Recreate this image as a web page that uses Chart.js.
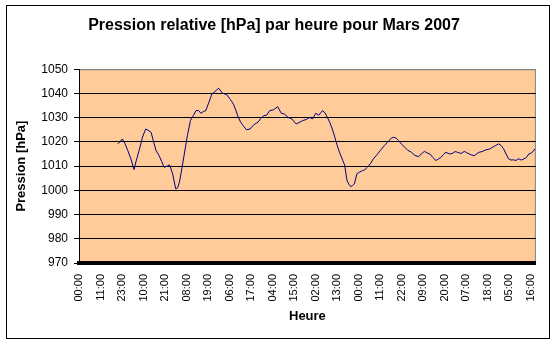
<!DOCTYPE html>
<html>
<head>
<meta charset="utf-8">
<title>Pression relative Mars 2007</title>
<script src="https://cdn.jsdelivr.net/npm/chart.js@4.4.1/dist/chart.umd.min.js"></script>
<style>
  html, body { margin: 0; padding: 0; background: #fff; }
  #chart { display: block; width: 555px; height: 344px; }
</style>
</head>
<body>
<canvas id="chart" width="555" height="344"></canvas>
<script>
// étiquettes de l'axe horizontal, une toutes les 35 lignes horaires
const tickLabels = ['00:00','11:00','23:00','10:00','21:00','08:00','19:00','06:00','17:00','04:00','15:00',
                    '02:00','13:00','00:00','11:00','22:00','09:00','20:00','07:00','18:00','05:00','16:00'];
const tickStep = 35;

// rang de la mesure horaire dans le mois
const hours = [63, 66, 70, 74, 79, 84, 89, 93, 98, 103, 108, 112, 117, 121, 125, 130, 134, 138, 143, 147,
               152, 157, 160, 163, 167, 171, 176, 181, 186, 190, 194, 198, 202, 206, 211, 216, 221, 227, 232, 236,
               240, 246, 251, 255, 259, 263, 267, 272, 278, 282, 286, 291, 295, 300, 305, 310, 316, 323, 329, 334,
               340, 346, 353, 358, 364, 370, 375, 380, 385, 390, 396, 400, 404, 408, 412, 416, 420, 424, 428, 432,
               436, 439, 442, 445, 448, 452, 456, 461, 465, 469, 474, 479, 485, 490, 497, 504, 508, 512, 516, 520,
               525, 530, 535, 541, 546, 552, 557, 562, 566, 571, 576, 581, 585, 589, 593, 597, 603, 608, 612, 616,
               622, 627, 631, 635, 639, 643, 647, 651, 656, 662, 668, 673, 678, 683, 687, 691, 695, 699, 703, 707,
               711, 715, 720, 724, 728, 732, 737, 742];

// pression relative en hPa
const pressure = [1019.2, 1020.0, 1021.2, 1019.5, 1016.4, 1013.0, 1008.6, 1012.5, 1017.0, 1022.0, 1025.3, 1024.8, 1023.9, 1020.0, 1016.4, 1014.3, 1012.0, 1009.5, 1010.0, 1010.5,
                  1006.8, 1000.6, 1001.0, 1003.3, 1009.0, 1015.0, 1022.6, 1028.8, 1031.0, 1032.9, 1033.0, 1031.8, 1032.5, 1032.9, 1036.3, 1039.8, 1040.8, 1042.2, 1040.4, 1039.8,
                  1039.5, 1037.5, 1035.6, 1033.0, 1030.1, 1028.0, 1026.7, 1025.0, 1025.3, 1026.5, 1027.4, 1028.1, 1029.5, 1030.8, 1031.0, 1032.9, 1033.2, 1034.5, 1031.8, 1031.5,
                  1030.1, 1029.5, 1027.4, 1028.0, 1028.8, 1029.3, 1030.1, 1029.5, 1031.8, 1031.0, 1032.9, 1032.0, 1030.1, 1028.0, 1025.3, 1022.0, 1018.5, 1015.5, 1013.0, 1010.5,
                  1004.0, 1002.5, 1001.5, 1002.0, 1002.7, 1006.8, 1007.5, 1008.1, 1008.5, 1009.5, 1011.0, 1013.0, 1014.8, 1016.4, 1018.5, 1020.5, 1021.5, 1021.9, 1021.5, 1020.5,
                  1019.0, 1017.8, 1016.5, 1015.7, 1014.5, 1013.9, 1015.0, 1016.1, 1015.5, 1015.0, 1013.5, 1012.3, 1013.0, 1013.6, 1014.8, 1015.7, 1015.0, 1015.3, 1016.0, 1015.7,
                  1015.2, 1016.1, 1015.5, 1015.0, 1014.6, 1014.3, 1015.0, 1015.7, 1016.0, 1016.7, 1017.0, 1017.8, 1018.5, 1019.2, 1018.5, 1017.1, 1015.0, 1013.0, 1012.5, 1012.6,
                  1012.3, 1013.0, 1012.5, 1013.0, 1013.5, 1015.0, 1015.5, 1017.1];

const FONT = "'Liberation Sans', Arial, sans-serif";

// fond saumon de la zone de tracé + cadre extérieur
const excelFrame = {
  id: 'excelFrame',
  beforeDraw(chart) {
    const { ctx, chartArea: a } = chart;
    ctx.save();
    ctx.fillStyle = '#fff';
    ctx.fillRect(0, 0, chart.width, chart.height);
    ctx.fillStyle = '#FFCC99';
    ctx.fillRect(a.left, a.top, a.right - a.left, a.bottom - a.top);
    ctx.strokeStyle = '#808080';
    ctx.lineWidth = 1;
    ctx.strokeRect(a.left + 0.5, a.top + 0.5, a.right - a.left - 1, a.bottom - a.top);
    ctx.restore();
  },
  afterDraw(chart) {
    const { ctx } = chart;
    ctx.save();
    ctx.strokeStyle = '#000';
    ctx.lineWidth = 1;
    ctx.strokeRect(6.5, 5.5, 543, 333);
    ctx.restore();
  }
};

new Chart(document.getElementById('chart'), {
  type: 'line',
  data: {
    datasets: [{
      data: hours.map((h, i) => ({ x: h, y: pressure[i] })),
      borderColor: '#000080',
      borderWidth: 1,
      pointRadius: 0,
      tension: 0,
      fill: false
    }]
  },
  options: {
    responsive: false,
    animation: false,
    layout: { padding: { left: 7, right: 14, top: 0, bottom: 6 } },
    plugins: {
      legend: { display: false },
      tooltip: { enabled: false },
      title: {
        display: true,
        text: 'Pression relative [hPa] par heure pour Mars 2007',
        color: '#000',
        font: { family: FONT, size: 16, weight: 'bold' },
        padding: { top: 16, bottom: 34 }
      }
    },
    scales: {
      x: {
        type: 'linear',
        min: -0.5,
        max: 743.5,
        afterBuildTicks: s => { s.ticks = tickLabels.map((_, i) => ({ value: i * tickStep })); },
        afterFit: s => { s.height = 75; },
        grid: { display: false, drawTicks: false },
        border: { color: '#000', width: 4 },
        ticks: {
          autoSkip: false,
          minRotation: 90,
          maxRotation: 90,
          padding: 11,
          color: '#000',
          font: { family: FONT, size: 11 },
          callback: (v, i) => tickLabels[i]
        },
        title: {
          display: true,
          text: 'Heure',
          color: '#000',
          font: { family: FONT, size: 13, weight: 'bold' },
          padding: { top: 0, bottom: 14 }
        }
      },
      y: {
        min: 970,
        max: 1050,
        afterFit: s => { s.width = 72; },
        grid: {
          color: ctx => ctx.tick && ctx.tick.value === 1050 ? '#808080' : '#000',
          tickColor: '#000',
          tickLength: 5,
          lineWidth: 1
        },
        border: { color: '#000', width: 1 },
        ticks: {
          stepSize: 10,
          padding: 6,
          color: '#000',
          font: { family: FONT, size: 12 },
          callback: v => String(v)
        },
        title: {
          display: true,
          text: 'Pression [hPa]',
          color: '#000',
          font: { family: FONT, size: 13, weight: 'bold' },
          padding: { top: 7, bottom: 0 }
        }
      }
    }
  },
  plugins: [excelFrame]
});
</script>
</body>
</html>
